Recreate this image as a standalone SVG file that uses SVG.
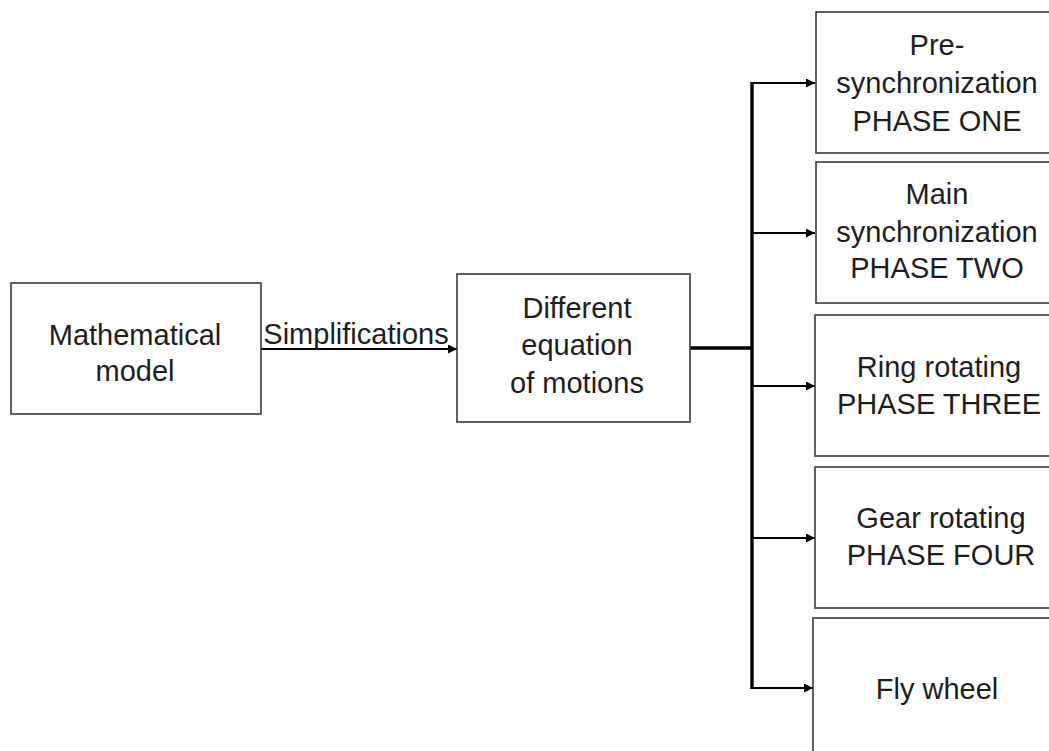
<svg xmlns="http://www.w3.org/2000/svg" width="1049" height="751" viewBox="0 0 1049 751">
  <style>
    .box { fill: #ffffff; stroke: #3a3a3a; stroke-width: 1.6; }
    .lbl { font-family: "Liberation Sans", Arial, sans-serif; font-size: 29px; fill: #1e1e1e; text-anchor: middle; }
    .wire { fill: none; stroke: #000000; stroke-width: 2; }
    .bus { fill: none; stroke: #000000; stroke-width: 3.4; }
  </style>
  <defs>
    <marker id="arrow" viewBox="0 0 10 10" refX="10" refY="5" markerWidth="10" markerHeight="9" markerUnits="userSpaceOnUse" orient="auto">
      <path d="M0,0 L10,5 L0,10 z" fill="#000000"/>
    </marker>
  </defs>
  <rect width="1049" height="751" fill="#ffffff"/>

  <!-- connectors -->
  <g id="connectors">
    <line class="wire" x1="261" y1="349" x2="457" y2="349" marker-end="url(#arrow)"/>
    <polyline class="bus" points="690,348 752,348"/>
    <line class="bus" x1="752" y1="82" x2="752" y2="689"/>
    <line class="wire" x1="751" y1="83" x2="815" y2="83" marker-end="url(#arrow)"/>
    <line class="wire" x1="751" y1="233" x2="815" y2="233" marker-end="url(#arrow)"/>
    <line class="wire" x1="751" y1="386" x2="815" y2="386" marker-end="url(#arrow)"/>
    <line class="wire" x1="751" y1="538" x2="815" y2="538" marker-end="url(#arrow)"/>
    <line class="wire" x1="751" y1="688" x2="813" y2="688" marker-end="url(#arrow)"/>
    <text class="lbl" x="356" y="344">Simplifications</text>
  </g>

  <g id="math-model">
    <rect class="box" x="11" y="283" width="250" height="131"/>
    <text class="lbl" x="135" y="345">Mathematical</text>
    <text class="lbl" x="135" y="381">model</text>
  </g>

  <g id="equations">
    <rect class="box" x="457" y="274" width="233" height="148"/>
    <text class="lbl" x="577" y="318">Different</text>
    <text class="lbl" x="577" y="355">equation</text>
    <text class="lbl" x="577" y="393">of motions</text>
  </g>

  <g id="phase-one">
    <rect class="box" x="816" y="12" width="244" height="141"/>
    <text class="lbl" x="937" y="55">Pre-</text>
    <text class="lbl" x="937" y="93">synchronization</text>
    <text class="lbl" x="937" y="131">PHASE ONE</text>
  </g>

  <g id="phase-two">
    <rect class="box" x="816" y="162" width="244" height="141"/>
    <text class="lbl" x="937" y="204">Main</text>
    <text class="lbl" x="937" y="242">synchronization</text>
    <text class="lbl" x="937" y="278">PHASE TWO</text>
  </g>

  <g id="phase-three">
    <rect class="box" x="815" y="315" width="245" height="141"/>
    <text class="lbl" x="939" y="377">Ring rotating</text>
    <text class="lbl" x="939" y="414">PHASE THREE</text>
  </g>

  <g id="phase-four">
    <rect class="box" x="815" y="467" width="245" height="141"/>
    <text class="lbl" x="941" y="528">Gear rotating</text>
    <text class="lbl" x="941" y="565">PHASE FOUR</text>
  </g>

  <g id="fly-wheel">
    <rect class="box" x="813" y="618" width="247" height="150"/>
    <text class="lbl" x="937" y="699">Fly wheel</text>
  </g>
</svg>
